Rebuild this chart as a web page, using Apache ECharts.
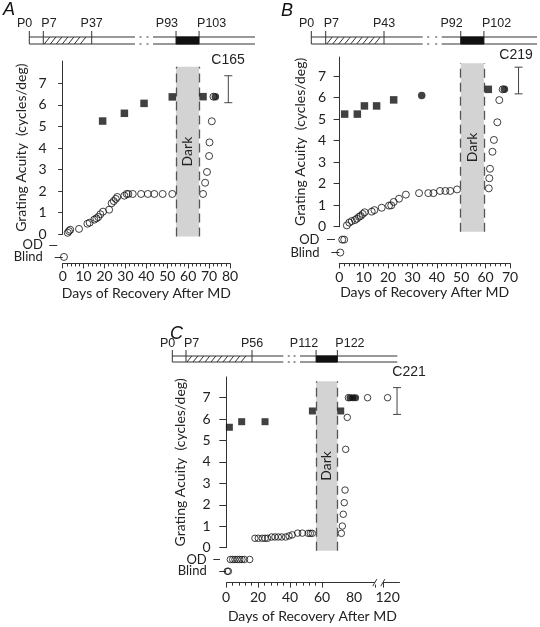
<!DOCTYPE html>
<html><head><meta charset="utf-8">
<script src="https://cdn.jsdelivr.net/npm/echarts@6/dist/echarts.min.js"></script>
<style>html,body{margin:0;padding:0;background:#fff}#c{width:540px;height:627px}</style>
</head><body><div id="c"></div>
<script>
// ================= DATA =================
const yTickValues = [0, 1, 2, 3, 4, 5, 6, 7];
const levelNames = ['OD', 'Blind'];
const xAxisTitle = 'Days of Recovery After MD';
const yAxisTitle = 'Grating Acuity  (cycles/deg)';
const darkLabel = 'Dark';
const panelLetters = ['A', 'B', 'C'];
const animalIds = ['C165', 'C219', 'C221'];

// Panel A
const timelineA = ['P0', 'P7', 'P37', 'P93', 'P103'];
const levelsA = [-0.5, -1.05];
const openA = [[0.6,-1.05],[2.4,0.07],[3.0,0.15],[3.6,0.21],[7.8,0.25],[11.8,0.49],[12.9,0.54],[15.1,0.68],[16.1,0.74],[17.0,0.80],[18.0,0.93],[19.3,1.05],[22.2,1.14],[23.4,1.44],[24.4,1.54],[25.4,1.64],[26.1,1.73],[29.5,1.79],[30.6,1.87],[31.4,1.87],[33.5,1.87],[37.5,1.87],[40.7,1.87],[43.8,1.87],[47.8,1.87],[52.4,1.87],[67.1,1.87],[68.1,2.39],[69.0,2.89],[70.0,3.63],[70.2,4.26],[71.3,5.24],[72.1,6.38]];
const squaresA = [[19.1,5.25],[29.5,5.61],[38.9,6.07],[52.4,6.37],[67.1,6.38]];
const filledA = [[73.0,6.38]];
const rangeA = [[79.2,6.1,7.35]];
const darkA = [54.2, 65.2];

// Panel B
const timelineB = ['P0', 'P7', 'P43', 'P92', 'P102'];
const levelsB = [-0.6, -1.2];
const openB = [[0.4,-1.2],[1.2,-0.6],[2.0,-0.6],[3.1,0.06],[4.1,0.19],[5.1,0.26],[6.4,0.31],[7.2,0.37],[8.1,0.46],[8.8,0.5],[9.6,0.59],[10.4,0.67],[13.3,0.70],[14.4,0.77],[17.4,0.88],[20.4,0.98],[21.3,0.99],[22.3,1.15],[24.5,1.30],[27.3,1.49],[32.7,1.56],[36.5,1.56],[38.6,1.56],[41.3,1.66],[43.5,1.66],[45.5,1.66],[48.3,1.73],[61.3,1.78],[61.5,2.25],[61.8,2.69],[62.8,3.48],[63.4,4.03],[64.8,4.85],[65.6,5.88],[67.0,6.38]];
const squaresB = [[2.2,5.23],[7.4,5.23],[10.3,5.61],[15.3,5.61],[22.3,5.89],[61.1,6.38]];
const filledB = [[33.8,6.09],[67.7,6.38]];
const rangeB = [[73.5,6.17,7.41]];
const darkB = [49.8, 59.3];

// Panel C
const timelineC = ['P0', 'P7', 'P56', 'P112', 'P122'];
const levelsC = [-0.55, -1.1];
const openC = [[0.8,-1.1],[1.5,-1.1],[2.7,-0.55],[4.2,-0.55],[5.6,-0.55],[7.1,-0.55],[8.6,-0.55],[10.0,-0.55],[11.5,-0.55],[14.8,-0.55],[18.1,0.44],[20.2,0.44],[22.7,0.44],[24.4,0.44],[26.0,0.44],[28.5,0.5],[30.6,0.5],[32.7,0.5],[34.8,0.5],[37.3,0.5],[39.4,0.55],[41.4,0.6],[44.8,0.68],[47.7,0.68],[51.4,0.67],[52.7,0.67],[53.9,0.67],[72.1,0.67],[72.7,1.01],[73.3,1.56],[73.9,2.10],[74.4,2.69],[74.8,4.59],[75.8,6.08],[76.5,7.0],[88.5,7.0],[120,7.0]];
const squaresC = [[2.1,5.62],[9.8,5.88],[24.4,5.88],[54.0,6.38],[71.7,6.38]];
const filledC = [[77.5,7.0],[79.3,7.0],[81.0,7.0]];
const rangeC = [[125.9,6.22,7.47]];
const darkC = [56.3, 69.6];
const xBreakC = [93, 117];
const xTickLabelsC = [0, 20, 40, 60, 80, 120];

// ================= LAYOUT / STYLE =================
const FONT = 'Lato, "Open Sans", sans-serif';
const AFONT = '"Liberation Sans", Arial, sans-serif';
const INK = '#222';
const LINE = '#333';

const panels = [
  { data:{open:openA, sq:squaresA, fill:filledA, range:rangeA, dark:darkA, levels:levelsA, tl:timelineA},
    L:{x0:62.7, width:167.3, xMax:80, xInt:10, y0:234.3, ppu:21.571, yTop:8.03, yBot:-1.35,
       yOff:11.1, tickLen:4.5, labMargin:5, levelOff:5.4, levelLen:8, levelMargin:14.5,
       xLabMargin:6, xNameGap:23, yNameGap:23, box:[-0.1,7.77], sym:7,
       letter:[3,1], id:[228,60.5],
       tl:{top:37, h:7, x0:29.3, hatch:[43.3,91.7], gap:[135,153], end:255, labelY:24}} },
  { data:{open:openB, sq:squaresB, fill:filledB, range:rangeB, dark:darkB, levels:levelsB, tl:timelineB},
    L:{x0:339.3, width:170.7, xMax:70, xInt:10, y0:226.7, ppu:21.53, yTop:7.88, yBot:-1.70,
       yOff:4.3, tickLen:5.7, labMargin:9, levelOff:4.3, levelLen:8, levelMargin:15.5,
       xLabMargin:7, xNameGap:20.5, yNameGap:27.5, box:[-0.23,7.59], sym:7,
       letter:[281,2], id:[516,55],
       tl:{top:37, h:7, x0:311.3, hatch:[325.7,384], gap:[422.7,441.7], end:537, labelY:24}} },
  { data:{open:openC, sq:squaresC, fill:filledC, range:rangeC, dark:darkC, levels:levelsC, tl:timelineC},
    L:{x0:226, width:172.8, xMax:127, xInt:20, y0:547.7, ppu:21.43, yTop:7.97, yBot:-1.63,
       yOff:1, tickLen:6.7, labMargin:14.5, levelOff:6, levelLen:6.7, levelMargin:13.3,
       xLabMargin:8, xNameGap:27, yNameGap:38, box:[-0.14,7.77], sym:6.5,
       breaks:[{start:xBreakC[0], end:xBreakC[1], gap:5}], xLabels:xTickLabelsC,
       letter:[170,325], id:[409,372],
       tl:{top:356, h:6, x0:172.3, hatch:[186,252], gap:[283.3,300], end:397.3, labelY:344}} }
];

const grids = [], xAxes = [], yAxes = [], series = [];

function buildPanel(P) {
  const L = P.L, D = P.data;
  const gi = grids.length;
  const xi = xAxes.length;
  const top = L.y0 - L.yTop * L.ppu;
  const h = (L.yTop - L.yBot) * L.ppu;
  grids.push({left:L.x0, top:top, width:L.width, height:h, containLabel:false, outerBoundsMode:'none'});
  grids.push({left:L.x0, top:top, width:L.width, height:L.yTop * L.ppu, containLabel:false, outerBoundsMode:'none'});
  grids.push({left:L.x0, top:top + h - 6, width:L.width, height:6, containLabel:false, outerBoundsMode:'none'});

  const xb = () => {
    const o = {type:'value', min:0, max:L.xMax, interval:L.xInt};
    if (L.breaks) o.breaks = L.breaks.map(b => Object.assign({}, b));
    return o;
  };
  const labelCfg = {fontSize:14, color:INK, fontFamily:FONT, margin:L.xLabMargin, hideOverlap:false, showMinLabel:true, showMaxLabel:true};
  if (L.xLabels) labelCfg.customValues = L.xLabels;
  xAxes.push(Object.assign(xb(), {gridIndex:gi, show:false, breakArea:{show:false}, splitLine:{show:false}}));
  xAxes.push(Object.assign(xb(), {gridIndex:gi+1, show:false, breakArea:{show:false}, splitLine:{show:false}}));
  xAxes.push(Object.assign(xb(), {
    gridIndex:gi+2, position:'bottom',
    axisLine:{show:true, lineStyle:{color:LINE, width:1}},
    axisTick:{show:true, length:5, lineStyle:{color:LINE}},
    minorTick:{show:true, splitNumber:5, length:3, lineStyle:{color:LINE}},
    splitLine:{show:false}, minorSplitLine:{show:false},
    axisLabel:labelCfg,
    breakArea:{show:false},
    name:xAxisTitle, nameLocation:'middle', nameGap:L.xNameGap,
    nameTextStyle:{fontSize:14, color:INK, fontFamily:FONT}
  }));

  const yi = yAxes.length;
  // main data axis (hidden line) – carries the "Blind" level tick
  yAxes.push({gridIndex:gi, type:'value', min:L.yBot, max:L.yTop, offset:L.levelOff,
    axisLine:{show:false}, splitLine:{show:false},
    axisTick:{show:true, customValues:[D.levels[1]], length:L.levelLen, lineStyle:{color:LINE}},
    axisLabel:{show:true, customValues:[D.levels[1]], formatter:() => levelNames[1],
      margin:L.levelMargin, fontSize:13, color:INK, fontFamily:FONT}});
  // visible 0..7 axis
  yAxes.push({gridIndex:gi+1, type:'value', min:0, max:L.yTop, offset:L.yOff,
    axisLine:{show:true, lineStyle:{color:LINE, width:1}}, splitLine:{show:false},
    axisTick:{show:true, customValues:yTickValues, length:L.tickLen, lineStyle:{color:LINE}},
    axisLabel:{show:true, customValues:yTickValues, margin:L.labMargin, fontSize:14, color:INK, fontFamily:FONT},
    name:yAxisTitle, nameLocation:'middle', nameGap:L.yNameGap,
    nameTextStyle:{fontSize:14, color:INK, fontFamily:FONT}});
  yAxes.push({gridIndex:gi+2, type:'value', show:false, min:0, max:1, splitLine:{show:false}});
  // same scale as main axis – carries the "OD" level tick
  yAxes.push({gridIndex:gi, type:'value', position:'left', min:L.yBot, max:L.yTop, offset:L.levelOff,
    axisLine:{show:false}, splitLine:{show:false},
    axisTick:{show:true, customValues:[D.levels[0]], length:L.levelLen, lineStyle:{color:LINE}},
    axisLabel:{show:true, customValues:[D.levels[0]], formatter:() => levelNames[0],
      margin:L.levelMargin, fontSize:13, color:INK, fontFamily:FONT}});

  const d0 = D.dark[0], d1 = D.dark[1], b0 = L.box[0], b1 = L.box[1];
  series.push({
    type:'scatter', xAxisIndex:xi, yAxisIndex:yi, data:D.open, symbol:'circle', symbolSize:L.sym,
    itemStyle:{color:'rgba(0,0,0,0)', borderColor:'#111', borderWidth:1}, clip:false, silent:true, z:4,
    markArea:{silent:true, itemStyle:{color:'#d3d3d3'},
      label:{show:true, position:'inside', rotate:90, fontSize:14, color:INK, fontFamily:FONT, formatter:darkLabel},
      data:[[{coord:[d0, b0]}, {coord:[d1, b1]}]]},
    markLine:{silent:true, symbol:['none','none'], label:{show:false},
      lineStyle:{type:[9,5], color:'#555', width:1.3},
      data:[[{coord:[d0,b0]},{coord:[d0,b1]}],[{coord:[d1,b0]},{coord:[d1,b1]}]]}
  });
  series.push({type:'scatter', xAxisIndex:xi, yAxisIndex:yi, data:D.sq, symbol:'rect', symbolSize:L.sym + 0.5,
    itemStyle:{color:'#111'}, clip:false, silent:true, z:5});
  series.push({type:'scatter', xAxisIndex:xi, yAxisIndex:yi, data:D.fill, symbol:'circle', symbolSize:L.sym + 0.5,
    itemStyle:{color:'#111'}, clip:false, silent:true, z:6});
  series.push({type:'custom', xAxisIndex:xi, yAxisIndex:yi, data:D.range, silent:true, clip:false,
    renderItem:(params, api) => {
      const x = api.value(0);
      const a = api.coord([x, api.value(1)]);
      const b = api.coord([x, api.value(2)]);
      const st = {stroke:'#444', lineWidth:1};
      return {type:'group', children:[
        {type:'line', shape:{x1:a[0], y1:a[1], x2:b[0], y2:b[1]}, style:st},
        {type:'line', shape:{x1:a[0]-4, y1:a[1], x2:a[0]+4, y2:a[1]}, style:st},
        {type:'line', shape:{x1:b[0]-4, y1:b[1], x2:b[0]+4, y2:b[1]}, style:st}
      ]};
    }});
  P.gi = gi;
}

panels.forEach(buildPanel);

const chart = echarts.init(document.getElementById('c'), null, {renderer:'canvas', width:540, height:627});
chart.setOption({
  animation:false, backgroundColor:'#fff',
  grid:grids, xAxis:xAxes, yAxis:yAxes, series:series
});

// ---- timeline diagrams (schematic) + annotations ----
function timelineEls(T, labels, bx0, bx1) {
  const els = [];
  const t = T.top, b = T.top + T.h;
  const ls = {stroke:LINE, lineWidth:1};
  const line = (x1, y1, x2, y2) => els.push({type:'line', silent:true, shape:{x1, y1, x2, y2}, style:ls});
  [t, b].forEach(y => {
    line(T.x0, y, T.gap[0], y);
    line(T.gap[1], y, T.end, y);
    line(T.gap[0] + 4.5, y, T.gap[0] + 6.5, y);
    line(T.gap[1] - 6.5, y, T.gap[1] - 4.5, y);
  });
  line(T.x0, t, T.x0, b);
  line(T.hatch[0], t, T.hatch[0], b);
  line(T.hatch[1], t, T.hatch[1], b);
  for (let x = T.hatch[0] + 1; x + T.h <= T.hatch[1] - 1; x += 6) line(x, b, x + T.h * 0.8, t);
  els.push({type:'rect', silent:true, shape:{x:bx0, y:t, width:bx1 - bx0, height:T.h}, style:{fill:'#111', stroke:'#111', lineWidth:1}});
  const xs = [T.x0, T.hatch[0], T.hatch[1], bx0, bx1];
  const aligns = ['right', 'left', 'center', 'right', 'left'];
  const dx = [3, -2, 0, 2, -2];
  xs.forEach((x, i) => {
    line(x, t - 6, x, t);
    els.push({type:'text', silent:true, x:x + dx[i], y:T.labelY,
      style:{text:labels[i], font:'12.5px ' + AFONT, fill:INK, align:aligns[i], verticalAlign:'middle'}});
  });
  return els;
}

const gfx = [];
panels.forEach((P, i) => {
  const L = P.L, D = P.data;
  const p0 = chart.convertToPixel({gridIndex:P.gi}, [D.dark[0], 0]);
  const p1 = chart.convertToPixel({gridIndex:P.gi}, [D.dark[1], 0]);
  timelineEls(L.tl, D.tl, p0[0], p1[0]).forEach(e => gfx.push(e));
  gfx.push({type:'text', silent:true, x:L.letter[0], y:L.letter[1],
    style:{text:panelLetters[i], font:'italic 18px ' + AFONT, fill:'#111', align:'left', verticalAlign:'top'}});
  gfx.push({type:'text', silent:true, x:L.id[0], y:L.id[1],
    style:{text:animalIds[i], font:'14px ' + AFONT, fill:INK, align:'center', verticalAlign:'middle'}});
  if (L.breaks) {
    const axisY = L.y0 - L.yBot * L.ppu;
    const s = chart.convertToPixel({gridIndex:P.gi + 2}, [L.breaks[0].start, 0])[0];
    const e = chart.convertToPixel({gridIndex:P.gi + 2}, [L.breaks[0].end, 0])[0];
    gfx.push({type:'rect', silent:true, z:100, shape:{x:s, y:axisY - 2, width:e - s, height:4}, style:{fill:'#fff'}});
    [s, e].forEach(x => gfx.push({type:'line', silent:true, z:101,
      shape:{x1:x - 2, y1:axisY + 3.5, x2:x + 2, y2:axisY - 3.5}, style:{stroke:LINE, lineWidth:1}}));
  }
});
chart.setOption({graphic:{elements:gfx}});
</script></body></html>
